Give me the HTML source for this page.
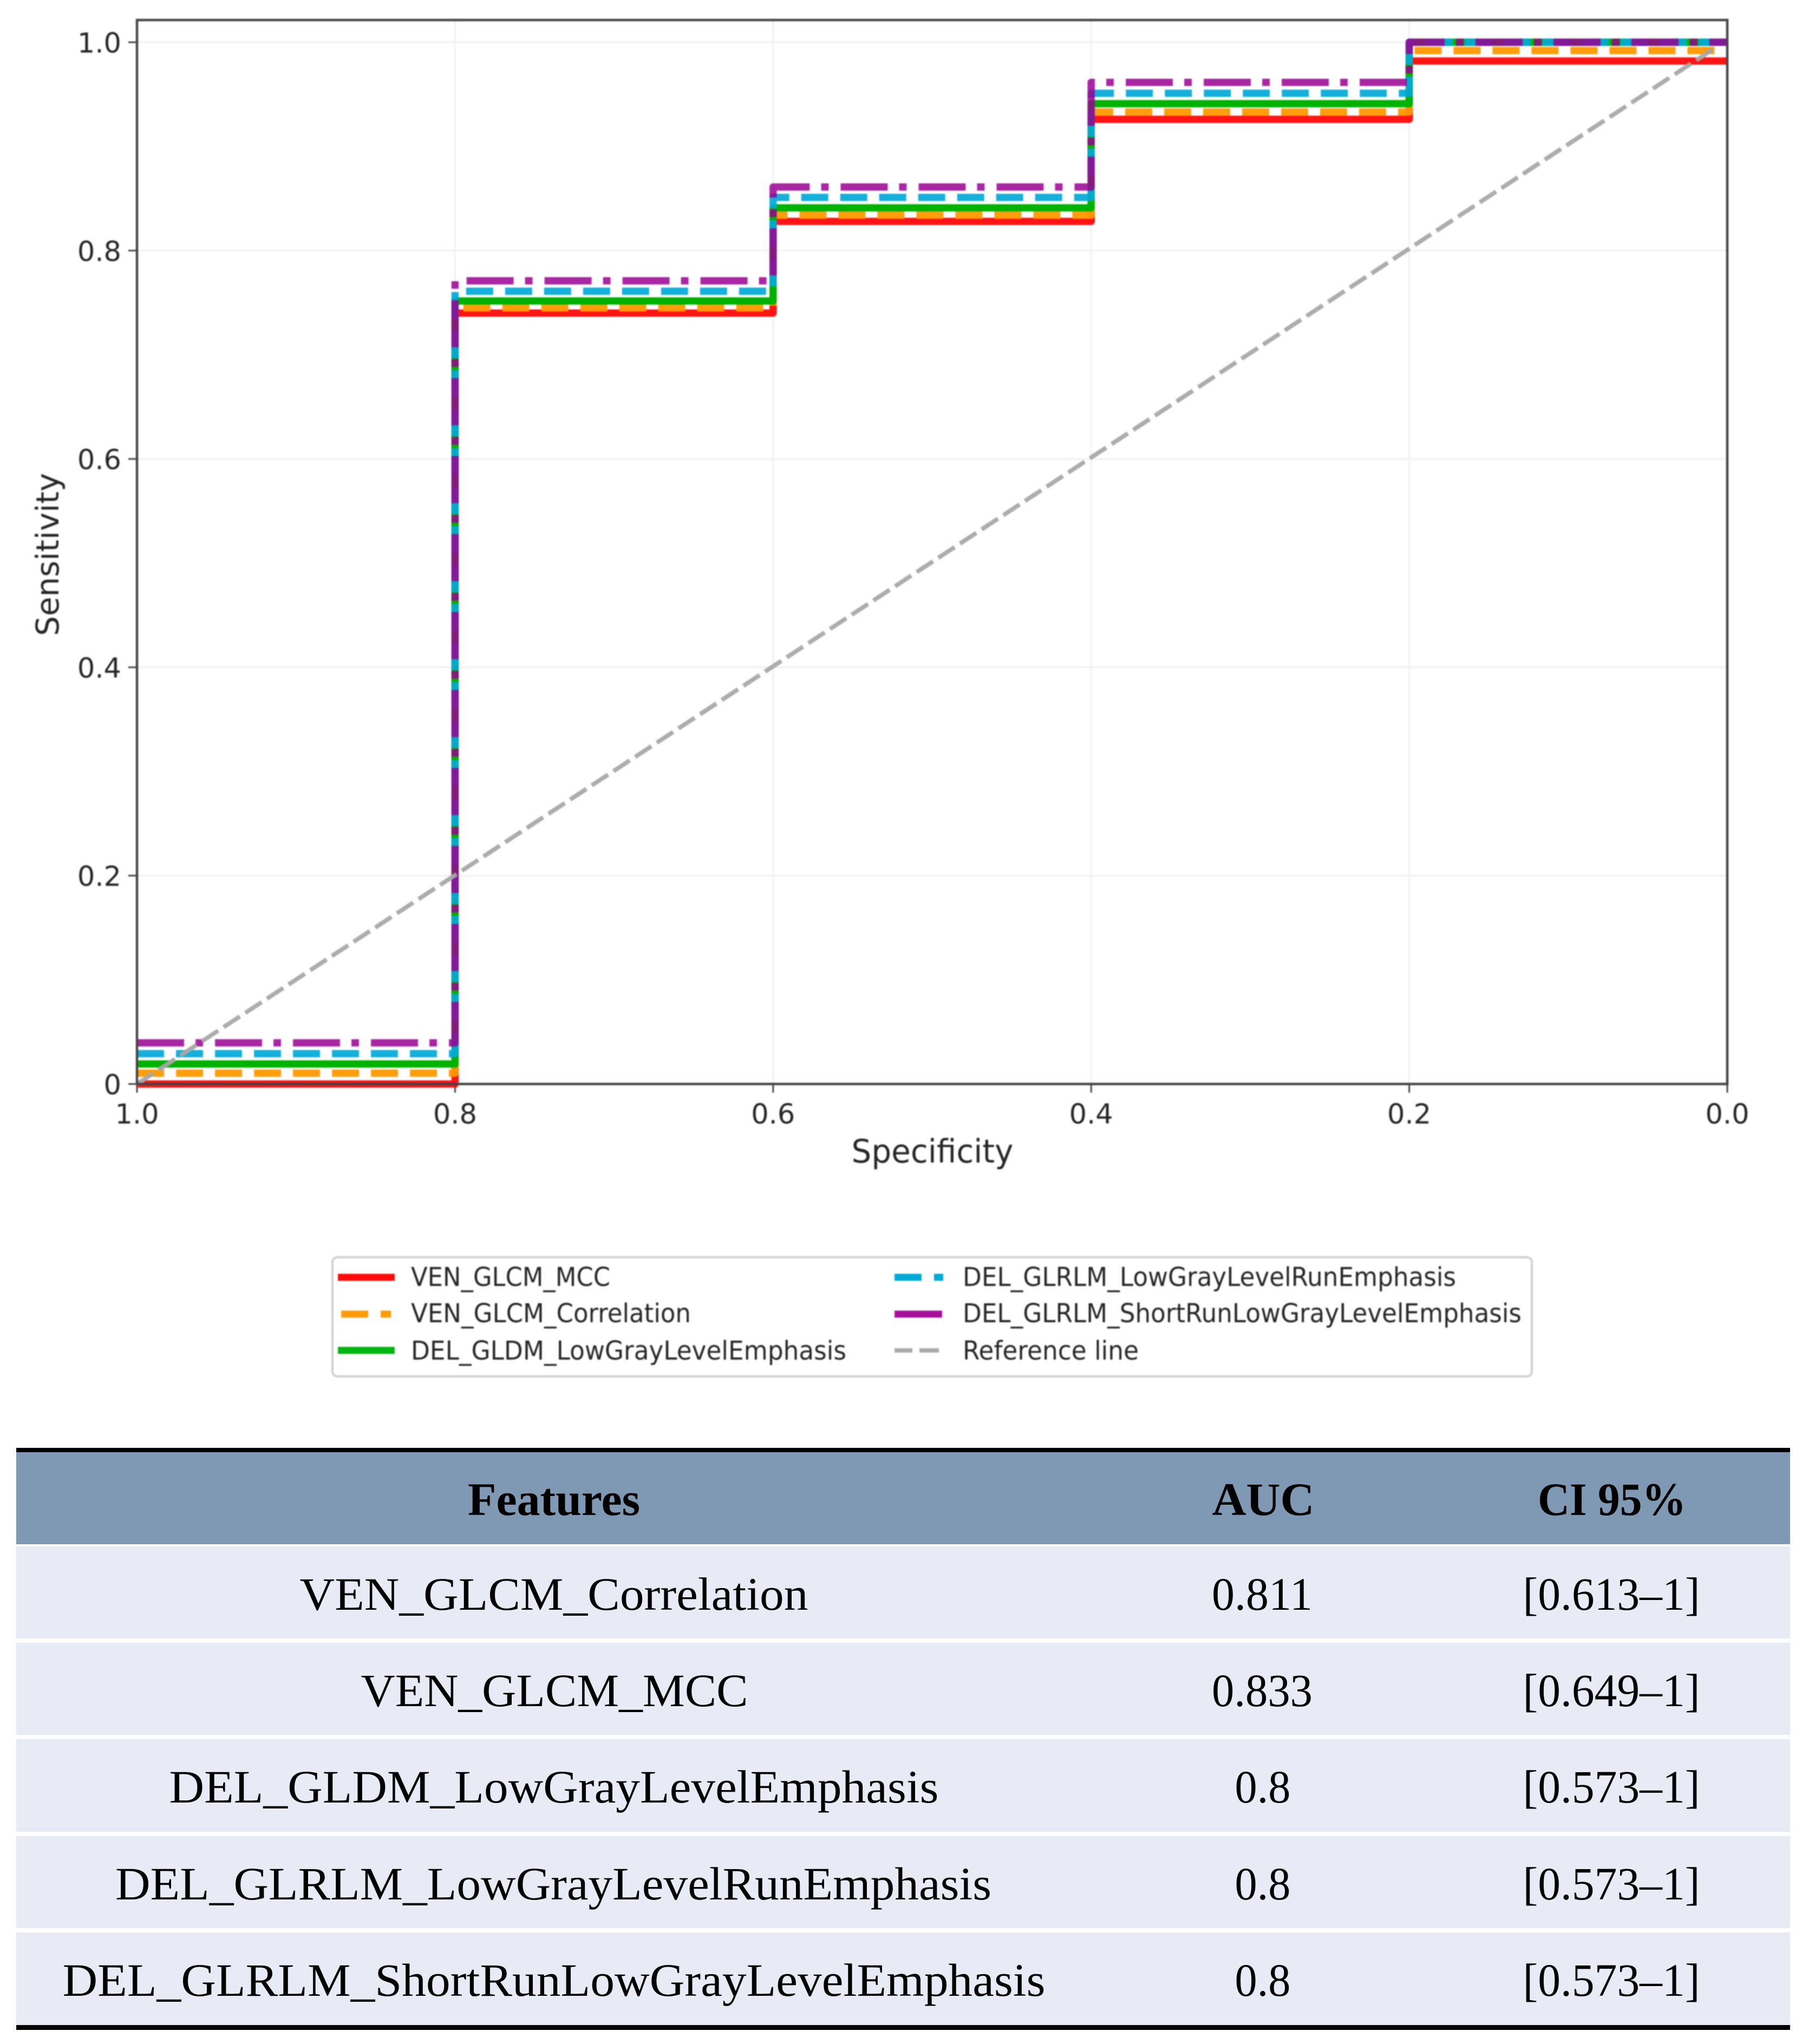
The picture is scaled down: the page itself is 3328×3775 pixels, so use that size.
<!DOCTYPE html>
<html lang="en">
<head>
<meta charset="utf-8">
<title>ROC curves and AUC table</title>
<style>
  html, body { margin: 0; padding: 0; background: #ffffff; }
  #page { position: relative; width: 3328px; height: 3775px; overflow: hidden; background: #ffffff; }
  svg { position: absolute; left: 0; top: 0; display: block; }
  #roc-svg text, #legend-svg text { font-family: "DejaVu Sans", "Liberation Sans", sans-serif; fill: #262626; }
  #table-svg text { font-family: "Liberation Serif", serif; font-size: 86px; fill: #000; text-anchor: middle; }
  #table-svg text.head { font-weight: bold; }
</style>
</head>
<body>
<div id="page">

  <svg id="roc-svg" width="3328" height="2250" viewBox="0 0 3328 2250" style="filter:blur(1.1px)">
    <g id="grid"></g>
    <g id="ticks"></g>
    <g id="series"></g>
    <rect x="253" y="37" width="2937" height="1965" fill="none" stroke="#444444" stroke-width="4.5"></rect>
    <g id="tick-labels"></g>
    <text x="1722" y="2147" font-size="60" text-anchor="middle" textLength="299" lengthAdjust="spacingAndGlyphs">Specificity</text>
    <text transform="translate(108,1024) rotate(-90)" font-size="58" text-anchor="middle" textLength="301" lengthAdjust="spacingAndGlyphs">Sensitivity</text>
  </svg>

  <svg id="legend-svg" width="3328" height="2600" viewBox="0 0 3328 2600" style="filter:blur(1.1px)">
    <rect x="614" y="2322" width="2215" height="220" rx="9" ry="9" fill="#ffffff" stroke="#cfcfcf" stroke-width="4"></rect>
    <g>
      <line x1="624" y1="2359" x2="729" y2="2359" stroke="#ff0a0a" stroke-width="13"></line>
      <text x="759" y="2375" font-size="48" textLength="368" lengthAdjust="spacingAndGlyphs">VEN_GLCM_MCC</text>
    </g>
    <g>
      <line x1="630" y1="2427" x2="680" y2="2427" stroke="#ff9c08" stroke-width="13"></line>
      <line x1="703" y1="2427" x2="722" y2="2427" stroke="#ff9c08" stroke-width="13"></line>
      <text x="759" y="2442" font-size="48" textLength="517" lengthAdjust="spacingAndGlyphs">VEN_GLCM_Correlation</text>
    </g>
    <g>
      <line x1="624" y1="2494" x2="729" y2="2494" stroke="#00b414" stroke-width="13"></line>
      <text x="759" y="2511" font-size="48" textLength="804" lengthAdjust="spacingAndGlyphs">DEL_GLDM_LowGrayLevelEmphasis</text>
    </g>
    <g>
      <line x1="1652" y1="2359" x2="1702" y2="2359" stroke="#00a9d6" stroke-width="13"></line>
      <line x1="1725" y1="2359" x2="1742" y2="2359" stroke="#00a9d6" stroke-width="13"></line>
      <text x="1778" y="2375" font-size="48" textLength="911" lengthAdjust="spacingAndGlyphs">DEL_GLRLM_LowGrayLevelRunEmphasis</text>
    </g>
    <g>
      <line x1="1652" y1="2427" x2="1740" y2="2427" stroke="#a8109c" stroke-width="13"></line>
      <text x="1778" y="2442" font-size="48" textLength="1032" lengthAdjust="spacingAndGlyphs">DEL_GLRLM_ShortRunLowGrayLevelEmphasis</text>
    </g>
    <g>
      <line x1="1652" y1="2494" x2="1685" y2="2494" stroke="#aaaaaa" stroke-width="8"></line>
      <line x1="1698" y1="2494" x2="1734" y2="2494" stroke="#aaaaaa" stroke-width="8"></line>
      <text x="1778" y="2511" font-size="48" textLength="325" lengthAdjust="spacingAndGlyphs">Reference line</text>
    </g>
  </svg>

  <svg id="table-svg" width="3328" height="3775" viewBox="0 0 3328 3775">
    <rect x="30" y="2674" width="3276" height="8" fill="#000"></rect>
    <rect x="30" y="2682" width="3276" height="170" fill="#7f98b3"></rect>
    <g>
      <text class="head" x="1023" y="2798" textLength="318" lengthAdjust="spacingAndGlyphs">Features</text>
      <text class="head" x="2333" y="2798" textLength="189" lengthAdjust="spacingAndGlyphs">AUC</text>
      <text class="head" x="2977" y="2798" textLength="274" lengthAdjust="spacingAndGlyphs">CI 95%</text>
    </g>

    <g>
      <rect x="30" y="2856" width="3276" height="170" fill="#e8ebf6"></rect>
      <text x="1023" y="2973" textLength="939" lengthAdjust="spacingAndGlyphs">VEN_GLCM_Correlation</text>
      <text x="2331" y="2973" textLength="186" lengthAdjust="spacingAndGlyphs">0.811</text>
      <text x="2976" y="2973" textLength="327" lengthAdjust="spacingAndGlyphs">[0.613–1]</text>
    </g>
    <g>
      <rect x="30" y="3034" width="3276" height="170" fill="#e8ebf6"></rect>
      <text x="1024" y="3151" textLength="715" lengthAdjust="spacingAndGlyphs">VEN_GLCM_MCC</text>
      <text x="2331" y="3151" textLength="186" lengthAdjust="spacingAndGlyphs">0.833</text>
      <text x="2976" y="3151" textLength="327" lengthAdjust="spacingAndGlyphs">[0.649–1]</text>
    </g>
    <g>
      <rect x="30" y="3212" width="3276" height="171" fill="#e8ebf6"></rect>
      <text x="1023" y="3329" textLength="1421" lengthAdjust="spacingAndGlyphs">DEL_GLDM_LowGrayLevelEmphasis</text>
      <text x="2332" y="3329" textLength="103" lengthAdjust="spacingAndGlyphs">0.8</text>
      <text x="2976" y="3329" textLength="327" lengthAdjust="spacingAndGlyphs">[0.573–1]</text>
    </g>
    <g>
      <rect x="30" y="3391" width="3276" height="170" fill="#e8ebf6"></rect>
      <text x="1022" y="3508" textLength="1618" lengthAdjust="spacingAndGlyphs">DEL_GLRLM_LowGrayLevelRunEmphasis</text>
      <text x="2332" y="3508" textLength="103" lengthAdjust="spacingAndGlyphs">0.8</text>
      <text x="2976" y="3508" textLength="327" lengthAdjust="spacingAndGlyphs">[0.573–1]</text>
    </g>
    <g>
      <rect x="30" y="3569" width="3276" height="171" fill="#e8ebf6"></rect>
      <text x="1023" y="3686" textLength="1815" lengthAdjust="spacingAndGlyphs">DEL_GLRLM_ShortRunLowGrayLevelEmphasis</text>
      <text x="2332" y="3686" textLength="103" lengthAdjust="spacingAndGlyphs">0.8</text>
      <text x="2976" y="3686" textLength="327" lengthAdjust="spacingAndGlyphs">[0.573–1]</text>
    </g>
    <rect x="30" y="3740" width="3276" height="9" fill="#000"></rect>
  </svg>
</div>

<script>
// Chart data
const specificitySteps = [1.0, 0.8, 0.6, 0.4, 0.2, 0.0];
const venGlcmMcc = [0.0, 0.740, 0.828, 0.926, 0.982];
const venGlcmCorrelation = [0.0104, 0.745, 0.834, 0.933, 0.992];
const delGldmLowGray = [0.0192, 0.7516, 0.841, 0.941, 1.0];
const delGlrlmLowGrayRun = [0.0291, 0.761, 0.851, 0.951, 1.0];
const delGlrlmShortRunLowGray = [0.0395, 0.771, 0.861, 0.9615, 1.0];
const referenceX = [1.0, 0.0085];
const referenceY = [0.0, 0.9938];
const xTickValues = [1.0, 0.8, 0.6, 0.4, 0.2, 0.0];
const xTickLabels = ["1.0", "0.8", "0.6", "0.4", "0.2", "0.0"];
const yTickValues = [0.0, 0.2, 0.4, 0.6, 0.8, 1.0];
const yTickLabels = ["0", "0.2", "0.4", "0.6", "0.8", "1.0"];

const SVGNS = "http://www.w3.org/2000/svg";
function xScale(v) { return 253 + (1 - v) * 2937; }
function yScale(v) { return 2002 - v * 1924; }
function make(tag, parent) {
  const el = document.createElementNS(SVGNS, tag);
  parent.appendChild(el);
  return el;
}

const gridGroup = document.getElementById("grid");
const tickGroup = document.getElementById("ticks");
const labelGroup = document.getElementById("tick-labels");
const seriesGroup = document.getElementById("series");

xTickValues.forEach(function (v, i) {
  const px = xScale(v);
  if (v !== 1.0 && v !== 0.0) {
    const g = make("line", gridGroup);
    
    
    g.setAttribute("x1", px); g.setAttribute("x2", px);
    g.setAttribute("y1", 37); g.setAttribute("y2", 2002);
    g.setAttribute("stroke", "#f1f1f1"); g.setAttribute("stroke-width", 3);
  }
  const t = make("line", tickGroup);
  
  
  t.setAttribute("x1", px); t.setAttribute("x2", px);
  t.setAttribute("y1", 2002); t.setAttribute("y2", 2018);
  t.setAttribute("stroke", "#444"); t.setAttribute("stroke-width", 3);
  const l = make("text", labelGroup);
  
  
  l.setAttribute("x", px); l.setAttribute("y", 2075);
  l.setAttribute("font-size", 51);
  l.setAttribute("text-anchor", "middle");
  l.textContent = xTickLabels[i];
});

yTickValues.forEach(function (v, i) {
  const py = yScale(v);
  if (v !== 0.0) {
    const g = make("line", gridGroup);
    
    
    g.setAttribute("x1", 253); g.setAttribute("x2", 3190);
    g.setAttribute("y1", py); g.setAttribute("y2", py);
    g.setAttribute("stroke", "#f1f1f1"); g.setAttribute("stroke-width", 3);
  }
  const t = make("line", tickGroup);
  
  
  t.setAttribute("x1", 237); t.setAttribute("x2", 253);
  t.setAttribute("y1", py); t.setAttribute("y2", py);
  t.setAttribute("stroke", "#444"); t.setAttribute("stroke-width", 3);
  const l = make("text", labelGroup);
  
  
  l.setAttribute("x", 224); l.setAttribute("y", py + 19);
  l.setAttribute("font-size", 51);
  l.setAttribute("text-anchor", "end");
  l.textContent = yTickLabels[i];
});

function stepPath(levels) {
  let d = "M" + xScale(specificitySteps[0]) + " " + yScale(levels[0]);
  levels.forEach(function (lev, i) {
    if (i > 0) d += "V" + yScale(lev);
    d += "H" + xScale(specificitySteps[i + 1]);
  });
  return d;
}

function styleCurve(el, color, opacity, dash) {
  el.setAttribute("fill", "none");
  el.setAttribute("stroke", color);
  el.setAttribute("stroke-width", 13.5);
  el.setAttribute("stroke-opacity", opacity);
  el.setAttribute("stroke-linejoin", "round");
  if (dash) el.setAttribute("stroke-dasharray", dash);
}

const redCurve = make("path", seriesGroup);


redCurve.setAttribute("d", stepPath(venGlcmMcc));
styleCurve(redCurve, "#ff0000", 0.92, null);

const orangeCurve = make("path", seriesGroup);


orangeCurve.setAttribute("d", stepPath(venGlcmCorrelation));
styleCurve(orangeCurve, "#ff9900", 0.95, "50 22");

const greenCurve = make("path", seriesGroup);


greenCurve.setAttribute("d", stepPath(delGldmLowGray));
styleCurve(greenCurve, "#00b200", 1, null);

const cyanCurve = make("path", seriesGroup);


cyanCurve.setAttribute("d", stepPath(delGlrlmLowGrayRun));
styleCurve(cyanCurve, "#00a8d8", 0.92, "50 22");

const purpleCurve = make("path", seriesGroup);


purpleCurve.setAttribute("d", stepPath(delGlrlmShortRunLowGray));
styleCurve(purpleCurve, "#990091", 0.85, "87 21 14 22");

const refLine = make("line", seriesGroup);


refLine.setAttribute("x1", xScale(referenceX[0]));
refLine.setAttribute("y1", yScale(referenceY[0]));
refLine.setAttribute("x2", xScale(referenceX[1]));
refLine.setAttribute("y2", yScale(referenceY[1]));
refLine.setAttribute("stroke", "#a8a8a8");
refLine.setAttribute("stroke-opacity", 0.95);
refLine.setAttribute("stroke-width", 8);
refLine.setAttribute("stroke-dasharray", "36 11.85");
</script>
</body>
</html>
